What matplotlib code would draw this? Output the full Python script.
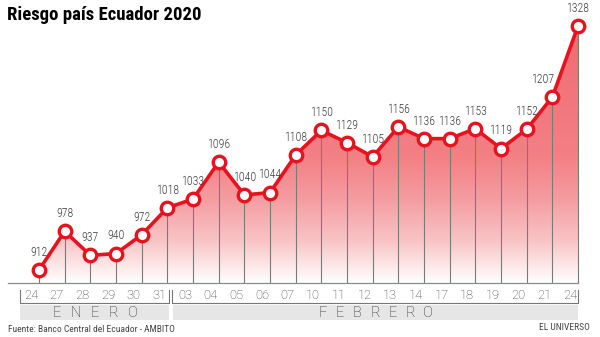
import matplotlib
matplotlib.use("Agg")
import matplotlib.pyplot as plt
import numpy as np
from matplotlib.colors import LinearSegmentedColormap
from matplotlib.patches import Rectangle

# Riesgo país (puntos) — enero/febrero 2020
days = ["24", "27", "28", "29", "30", "31", "03", "04", "05", "06", "07",
        "10", "11", "12", "13", "14", "17", "18", "19", "20", "21", "24"]
values = [912, 978, 937, 940, 972, 1018, 1033, 1096, 1040, 1044, 1108,
          1150, 1129, 1105, 1156, 1136, 1136, 1153, 1119, 1152, 1207, 1328]
months = ["ENERO", "FEBRERO"]

title = "Riesgo país Ecuador 2020"
source = "Fuente: Banco Central del Ecuador - AMBITO"
credit = "EL UNIVERSO"

RED = "#e8121f"
GREY_TXT = "#3c3c3c"
NARROW = ["Roboto Condensed", "Liberation Sans Narrow", "Roboto", "DejaVu Sans"]
LIGHT = ["Roboto", "DejaVu Sans"]

W, H = 600, 337
fig = plt.figure(figsize=(W / 100, H / 100), dpi=100)
fig.patch.set_facecolor("white")

# decoration layer in pixel units
deco = fig.add_axes([0, 0, 1, 1])
deco.set_xlim(0, W)
deco.set_ylim(H, 0)
deco.axis("off")

# data layer
ax = fig.add_axes([0, 0, 1, 1], facecolor="none")
x = np.arange(len(values))
step = 25.667
x0 = 39
ax.set_xlim(-x0 / step, (W - x0) / step)
ppu = 0.5865
ax.set_ylim(912 - (H - 270) / ppu, 912 + 270 / ppu)
ax.axis("off")
base = 912 - 13 / ppu

# gradient fill under the curve
poly = ax.fill_between(x, values, base, color="none", lw=0)
cmap = LinearSegmentedColormap.from_list(
    "g", [(0.0, "#ffffff"), (0.16, "#f8c4c6"), (0.32, "#f59ca0"),
          (0.48, "#f38085"), (1.0, "#ef6a70")])
grad = np.linspace(0, 1, 256).reshape(-1, 1)
img = ax.imshow(grad, cmap=cmap, aspect="auto", origin="lower",
                extent=[x[0], x[-1], base, max(values) + 10], zorder=1)
path = poly.get_paths()[0]
img.set_clip_path(path, transform=ax.transData)

# drop lines and baseline
ax.vlines(x, base, values, colors="#7a7a7a", lw=0.8, zorder=2)
ax.plot([(8 - x0) / step, x[-1]], [base, base], color="#8a8a8a", lw=0.9, zorder=2)

# series
ax.plot(x, values, color=RED, lw=2.6, zorder=3, solid_joinstyle="round")
ax.plot(x, values, "o", ms=9, mfc="white", mec=RED, mew=2.4, zorder=4)

for i, (xi, v) in enumerate(zip(x, values)):
    # the second-to-last label sits left of the steep final segment
    dx = -7 if i == len(values) - 2 else 0
    ax.annotate(str(v), (xi, v), xytext=(dx, 8), textcoords="offset points",
                ha="center", va="bottom", fontsize=8.5, color=GREY_TXT,
                family=NARROW, fontweight="light", zorder=5)

# day labels (set slightly left of each point)
for xi, d in zip(x, days):
    ax.annotate(d, (xi, base), xytext=(-5.8, -9), textcoords="offset points",
                ha="center", va="center", fontsize=9.3, color=GREY_TXT,
                family=LIGHT, fontweight="light")

# month brackets and bands
bounds = [(20, 169), (173, 578)]
for (l, r) in bounds:
    deco.add_patch(Rectangle((l, 305), r - l, 15, color="#e6e6e7", lw=0))
deco.plot([20, 20, 169, 169], [290, 303, 303, 290], color="#777", lw=0.8)
deco.plot([172, 172, 578, 578], [290, 303, 303, 290], color="#777", lw=0.8)

for (l, r), m in zip(bounds, months):
    n = len(m)
    sp = 19 if m == "ENERO" else 17.5
    cx = (l + r) / 2 if m == "ENERO" else 375
    start = cx - sp * (n - 1) / 2
    for i, ch in enumerate(m):
        deco.text(start + i * sp, 313, ch, ha="center", va="center",
                  fontsize=10.5, color="#2a2a2a", family=LIGHT, fontweight="light")

deco.text(7, 15, title, ha="left", va="center", fontsize=13.5,
          fontweight="bold", color="black", family=NARROW)
deco.text(8, 330, source, ha="left", va="center", fontsize=6.8,
          color="#444", family=NARROW)
deco.text(590, 328, credit, ha="right", va="center", fontsize=6.8,
          color="#444", family=NARROW)

fig.savefig("out.png", dpi=100)
